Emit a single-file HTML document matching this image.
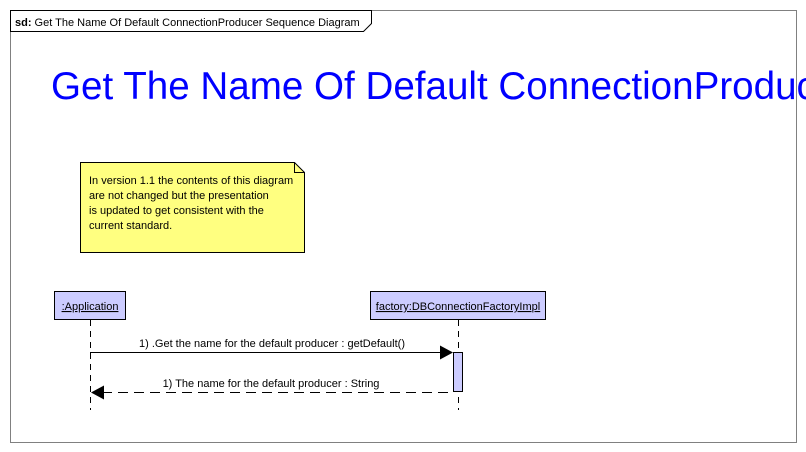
<!DOCTYPE html>
<html><head><meta charset="utf-8"><style>
html,body{margin:0;padding:0;background:#fff;width:806px;height:452px;overflow:hidden}
svg{display:block;font-family:"Liberation Sans",Arial,sans-serif}
</style></head><body>
<svg width="806" height="452" viewBox="0 0 806 452" xmlns="http://www.w3.org/2000/svg">
<rect x="10.5" y="10.5" width="786" height="432" fill="#fff" stroke="#808080"/>
<path d="M10.5 10.5 H371.5 V23.5 L363.5 31.5 H10.5 Z" fill="#fff" stroke="#000"/>
<text x="15" y="26" font-size="11"><tspan font-weight="bold">sd:</tspan> Get The Name Of Default ConnectionProducer Sequence Diagram</text>
<text x="51" y="99" font-size="38.6" fill="#0000ff">Get The Name Of Default ConnectionProducer Sequence Diagram</text>
<path d="M80.5 162.5 H294.5 L304.5 172.5 V252.5 H80.5 Z" fill="#ffff80" stroke="#000"/>
<path d="M294.5 162.5 V172.5 H304.5" fill="none" stroke="#000"/>
<g font-size="11">
<text x="89" y="184">In version 1.1 the contents of this diagram</text>
<text x="89" y="199">are not changed but the presentation</text>
<text x="89" y="214">is updated to get consistent with the</text>
<text x="89" y="229"> current standard.</text>
</g>
<rect x="54.5" y="291.5" width="71" height="28" fill="#ccccff" stroke="#000"/>
<text x="90" y="310" font-size="11" text-anchor="middle" text-decoration="underline">:Application</text>
<rect x="370.5" y="291.5" width="175" height="28" fill="#ccccff" stroke="#000"/>
<text x="458" y="310" font-size="11" text-anchor="middle" text-decoration="underline">factory:DBConnectionFactoryImpl</text>
<line x1="90.5" y1="320" x2="90.5" y2="410" stroke="#000" stroke-dasharray="6,5"/>
<line x1="458.5" y1="320" x2="458.5" y2="410" stroke="#000" stroke-dasharray="6,5"/>
<rect x="453.5" y="352.5" width="9" height="39" fill="#ccccff" stroke="#000"/>
<line x1="90" y1="352.5" x2="442" y2="352.5" stroke="#000"/>
<path d="M440 345.5 L453 352.5 L440 359.5 Z" fill="#000"/>
<text x="272" y="347" font-size="11" text-anchor="middle">1) .Get the name for the default producer : getDefault()</text>
<line x1="102" y1="392.5" x2="453" y2="392.5" stroke="#000" stroke-dasharray="10,6"/>
<path d="M104 385.5 L91 392.5 L104 399.5 Z" fill="#000"/>
<text x="271" y="387" font-size="11" text-anchor="middle">1) The name for the default producer : String</text>
</svg>
</body></html>
